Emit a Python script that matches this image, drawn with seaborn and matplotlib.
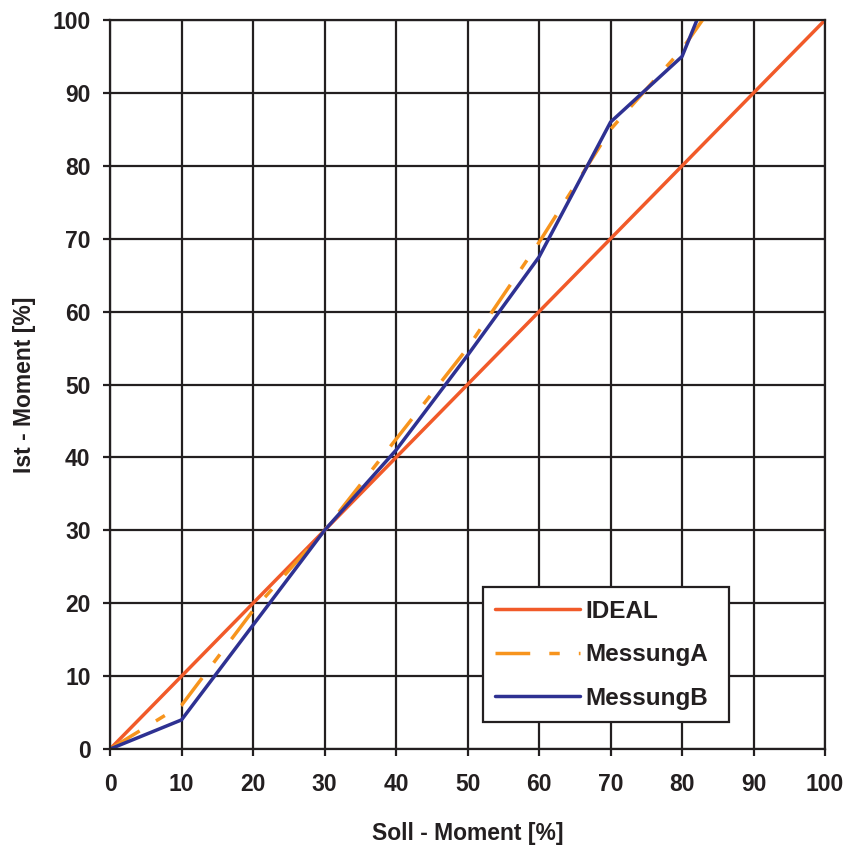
import matplotlib
matplotlib.use("Agg")
import matplotlib.pyplot as plt
from matplotlib.lines import Line2D
import seaborn as sns
import pandas as pd

# Target vs. measured torque, in percent of nominal
soll = [0, 10, 20, 30, 40, 50, 60, 70, 80, 90, 100]
ideal = [0, 10, 20, 30, 40, 50, 60, 70, 80, 90, 100]
messung_a = [0, 6, 19, 30, 42.5, 55, 69.5, 85, 96, 110, 124]
messung_b = [0, 4, 17, 30, 41, 54, 67.5, 86, 95, 119, 135]

series_names = ["IDEAL", "MessungA", "MessungB"]
colors = {"IDEAL": "#F15A29", "MessungA": "#F7941D", "MessungB": "#2E3192"}
ticks = [0, 10, 20, 30, 40, 50, 60, 70, 80, 90, 100]
dash_a = (10, 5.5, 3, 5.5)
ink = "#231F20"

df = pd.DataFrame({
    "Soll": soll * 3,
    "Ist": ideal + messung_a + messung_b,
    "Serie": [n for n in series_names for _ in soll],
})

sns.set_theme(style="white")
plt.rcParams["font.family"] = ["Liberation Sans", "DejaVu Sans"]
plt.rcParams["font.weight"] = "bold"

fig = plt.figure(figsize=(8.47, 8.48), dpi=100)
ax = fig.add_axes([0.1299, 0.1167, 0.8442, 0.8597])

sns.lineplot(data=df, x="Soll", y="Ist", hue="Serie", style="Serie",
             palette=colors,
             dashes={"IDEAL": "", "MessungA": dash_a, "MessungB": ""},
             linewidth=2.5, ax=ax, legend=False)

ax.set_xlim(0, 100)
ax.set_ylim(0, 100)
ax.set_xticks(ticks)
ax.set_yticks(ticks)
ax.grid(True, color=ink, linewidth=1.6)
ax.set_axisbelow(True)
for s in ax.spines.values():
    s.set_color(ink)
    s.set_linewidth(1.6)
ax.tick_params(axis="both", which="major", length=5, width=1.6, color=ink,
               labelsize=16.5, bottom=True, left=True, labelcolor=ink)
ax.tick_params(axis="x", pad=12)
ax.tick_params(axis="y", pad=9)
for lbl in ax.get_xticklabels() + ax.get_yticklabels():
    lbl.set_fontweight("bold")

ax.set_xlabel("Soll - Moment [%]", fontsize=16.5, fontweight="bold",
              color=ink, labelpad=19)
ax.set_ylabel("Ist - Moment [%]", fontsize=16.5, fontweight="bold",
              color=ink, labelpad=12)

handles = [
    Line2D([], [], color=colors["IDEAL"], linewidth=2.5),
    Line2D([], [], color=colors["MessungA"], linewidth=2.5, dashes=dash_a),
    Line2D([], [], color=colors["MessungB"], linewidth=2.5),
]
leg = ax.legend(handles, series_names, loc="lower left", mode="expand",
                bbox_to_anchor=(0.522, 0.037, 0.344, 0.18),
                prop={"size": 17.5, "weight": "bold"},
                frameon=True, fancybox=False, handlelength=3.5, borderpad=0.5,
                labelspacing=0.85, handletextpad=0.2, borderaxespad=0)
leg.get_frame().set_edgecolor(ink)
leg.get_frame().set_linewidth(1.6)
leg.get_frame().set_facecolor("white")
leg.get_frame().set_alpha(1)
for t in leg.get_texts():
    t.set_color(ink)

fig.savefig("out.png", dpi=100, facecolor="white")
